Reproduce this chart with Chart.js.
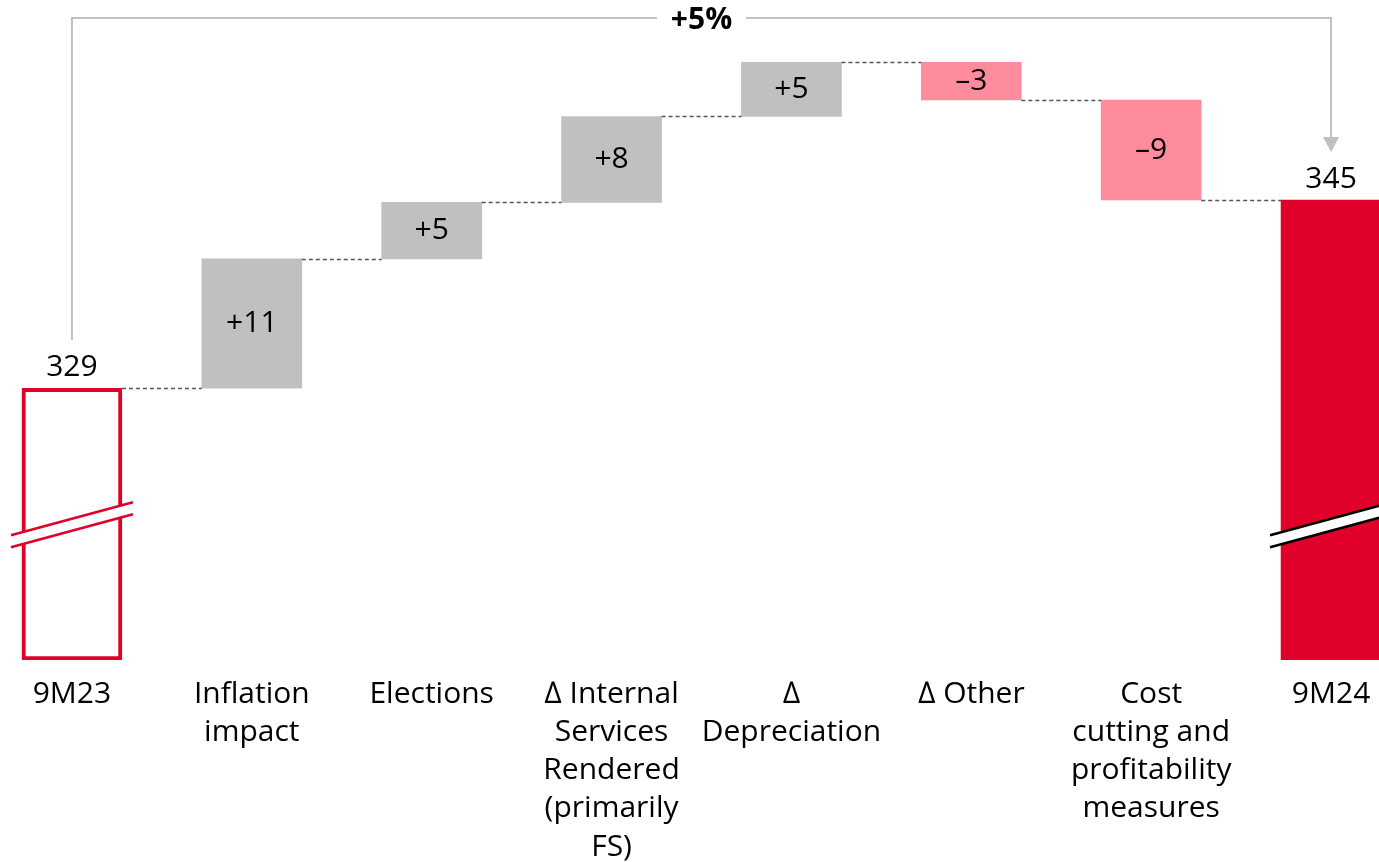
<!DOCTYPE html>
<html lang="en">
<head>
<meta charset="UTF-8" />
<title>Cost bridge 9M23 - 9M24</title>
<style>
  html, body { margin: 0; padding: 0; background: #fff; overflow: hidden; }
  /* canvas is a bit wider than the window: the last bar runs off the right edge */
  .chartBox { position: absolute; left: -18px; top: 0; width: 1439px; height: 862px; }
</style>
</head>
<body>
<div class="chartBox"><canvas id="bridge"></canvas></div>

<script src="https://cdn.jsdelivr.net/npm/chart.js"></script>
<script>
// data
const categories = [
    "9M23",
    ["Inflation", "impact"],
    "Elections",
    ["\u2206 Internal", "Services", "Rendered", "(primarily", "FS)"],
    ["\u2206", "Depreciation"],
    "\u2206 Other",
    ["Cost", "cutting and", "profitability", "measures"],
    "9M24"
];
// running total after each step (start, 6 steps)
const levels = [329, 340.0, 344.8, 352.1, 356.7, 353.5, 345];
const valueLabels = ["329", "+11", "+5", "+8", "+5", "\u20133", "\u20139", "345"];
const barKinds = ["start", "up", "up", "up", "up", "down", "down", "end"];
const totalChange = "+5%";
// the value axis is broken, it starts well above zero
const axisMin = 305.9;
const axisMax = 362;
const breakValue = 317.4;

const RED = "#e1002a";
const PINK = "#ff8c9c";
const GREY = "#c0c0c0";
const FONT = "'Open Sans', sans-serif";

// floating bars built from the levels
const barData = categories.map(function (c, i) {
    if (i === 0) return [axisMin, levels[0]];
    if (i === categories.length - 1) return [axisMin, levels[levels.length - 1]];
    return [levels[i - 1], levels[i]];
});
const fillColors = barKinds.map(function (k) {
    return k === "start" ? "#ffffff" : k === "end" ? RED : k === "up" ? GREY : PINK;
});
const borderColors = barKinds.map(function (k) { return k === "start" ? RED : "rgba(0,0,0,0)"; });
const borderWidths = barKinds.map(function (k) { return k === "start" ? 4 : 0; });

// labels, connectors, axis breaks and the +5% bracket
const bridgeDecor = {
    id: "bridgeDecor",
    afterDatasetsDraw(chart) {
        const ctx = chart.ctx;
        const bars = chart.getDatasetMeta(0).data;
        const y = chart.scales.y;
        ctx.save();

        // dashed connectors
        ctx.strokeStyle = "#555";
        ctx.lineWidth = 1.3;
        ctx.setLineDash([4, 3]);
        for (let i = 0; i < bars.length - 1; i++) {
            const py = Math.round(y.getPixelForValue(levels[i])) + 0.5;
            ctx.beginPath();
            ctx.moveTo(bars[i].x + bars[i].width / 2, py);
            ctx.lineTo(bars[i + 1].x - bars[i + 1].width / 2, py);
            ctx.stroke();
        }
        ctx.setLineDash([]);

        // axis break marks on the two total bars
        [0, bars.length - 1].forEach(function (i) {
            const b = bars[i];
            const cy = y.getPixelForValue(breakValue);
            const x0 = b.x - b.width / 2 - 11, x1 = b.x + b.width / 2 + 11;
            const slope = -0.27, gap = 6;
            const yl = cy - slope * (b.x - x0), yr = cy + slope * (x1 - b.x);
            ctx.fillStyle = "#fff";
            ctx.beginPath();
            ctx.moveTo(x0, yl - gap); ctx.lineTo(x1, yr - gap);
            ctx.lineTo(x1, yr + gap); ctx.lineTo(x0, yl + gap);
            ctx.closePath();
            ctx.fill();
            ctx.strokeStyle = i === 0 ? RED : "#000";
            ctx.lineWidth = 2.5;
            [-gap, gap].forEach(function (g) {
                ctx.beginPath();
                ctx.moveTo(x0, yl + g); ctx.lineTo(x1, yr + g);
                ctx.stroke();
            });
        });

        // value labels
        ctx.fillStyle = "#000";
        ctx.font = "30px " + FONT;
        ctx.textAlign = "center";
        bars.forEach(function (b, i) {
            if (barKinds[i] === "start" || barKinds[i] === "end") {
                ctx.textBaseline = "bottom";
                ctx.fillText(valueLabels[i], b.x, Math.min(b.y, b.base) - 6);
            } else {
                ctx.textBaseline = "middle";
                ctx.fillText(valueLabels[i], b.x, (b.y + b.base) / 2);
            }
        });

        // bracket with arrow from first to last total
        const first = bars[0], last = bars[bars.length - 1];
        const topY = 18;
        const leftBottom = y.getPixelForValue(levels[0]) - 48;
        const arrowTip = y.getPixelForValue(levels[levels.length - 1]) - 48;
        const midX = (first.x + last.x) / 2;
        ctx.font = "bold 30px " + FONT;
        const half = ctx.measureText(totalChange).width / 2 + 14;
        ctx.strokeStyle = GREY;
        ctx.lineWidth = 2;
        ctx.lineJoin = "round";
        ctx.beginPath();
        ctx.moveTo(first.x, leftBottom); ctx.lineTo(first.x, topY); ctx.lineTo(midX - half, topY);
        ctx.moveTo(midX + half, topY); ctx.lineTo(last.x, topY); ctx.lineTo(last.x, arrowTip - 14);
        ctx.stroke();
        ctx.fillStyle = GREY;
        ctx.beginPath();
        ctx.moveTo(last.x - 8, arrowTip - 15); ctx.lineTo(last.x + 8, arrowTip - 15); ctx.lineTo(last.x, arrowTip);
        ctx.closePath();
        ctx.fill();
        ctx.fillStyle = "#000";
        ctx.textBaseline = "middle";
        ctx.fillText(totalChange, midX, topY + 2);

        ctx.restore();
    }
};

const bridgeChart = new Chart(document.getElementById("bridge"), {
    type: "bar",
    data: {
        labels: categories,
        datasets: [{
            data: barData,
            backgroundColor: fillColors,
            borderColor: borderColors,
            borderWidth: borderWidths,
            borderSkipped: false,
            barThickness: 100
        }]
    },
    options: {
        responsive: true,
        maintainAspectRatio: false,
        animation: false,
        layout: { padding: 0 },
        plugins: { legend: { display: false }, tooltip: { enabled: false } },
        scales: {
            x: {
                grid: { display: false },
                border: { display: false },
                ticks: {
                    color: "#000",
                    padding: 7,
                    maxRotation: 0,
                    autoSkip: false,
                    font: { family: FONT, size: 30, lineHeight: 1.275 }
                },
                afterFit: function (scale) { scale.height = 202; }
            },
            y: {
                display: false,
                min: axisMin,
                max: axisMax
            }
        }
    },
    plugins: [bridgeDecor]
});
</script>
</body>
</html>
